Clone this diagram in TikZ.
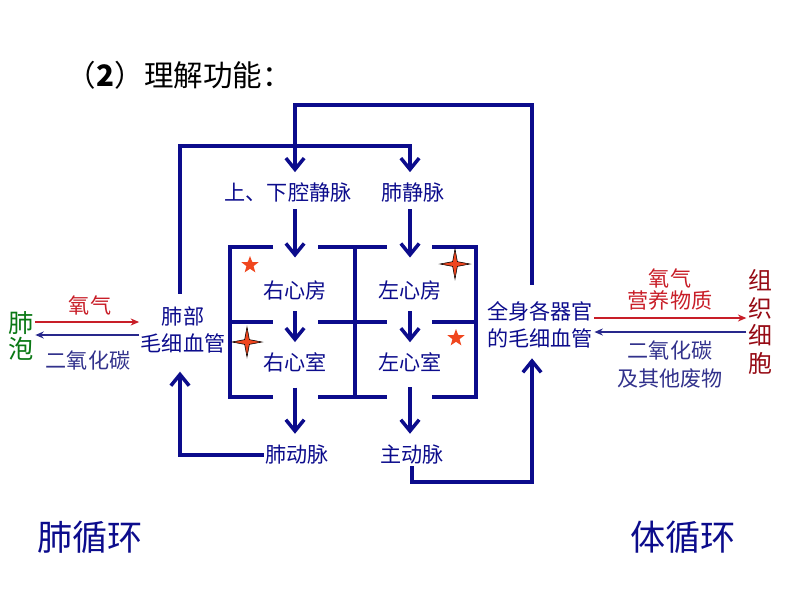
\documentclass[tikz,border=0pt]{standalone}
\usepackage{fontspec}
\setmainfont{Liberation Sans}
\newfontfamily\cjk{Noto Sans CJK SC}
\usetikzlibrary{arrows.meta, shapes.geometric}

\definecolor{vesselblue}{RGB}{12,12,140}
\definecolor{arrowred}{RGB}{200,30,40}
\definecolor{arrowblue}{RGB}{40,40,140}
\definecolor{cellred}{RGB}{150,10,20}
\definecolor{alveoligreen}{RGB}{10,120,20}
\definecolor{wasteblue}{RGB}{50,50,140}
\definecolor{starred}{RGB}{240,70,30}

\begin{document}
\begin{tikzpicture}[
            x = 0.025cm, y = -0.025cm, % pixel grid, y runs down
            > = {Straight Barb[length=8pt, width=13pt]}, % arrow head style
            flow/.style = {draw = vesselblue, line width = 2.5pt, ->},
            wall/.style = {draw = vesselblue, line width = 2.5pt},
            organ/.style = {font = \cjk\fontsize{15}{19}\selectfont, text = vesselblue, inner sep = 1pt},
            gasin/.style = {draw = arrowred, line width = 1.4pt, -{Stealth[length=6pt, width=5pt]}},
            gasout/.style = {draw = arrowblue, line width = 1.4pt, -{Stealth[length=6pt, width=5pt]}},
            spark/.style = {star, star points = 4, star point ratio = 4.5, draw = black, line width = 0.4pt,
                fill = starred, minimum size = 0.75cm, inner sep = 0pt},
            dotstar/.style = {star, star points = 5, star point ratio = 2.4, fill = starred,
                minimum size = 0.45cm, inner sep = 0pt}
        ]

        \useasboundingbox (0,0) rectangle (800,600);

        % title
        \node[anchor = west, font = \cjk\fontsize{21}{24}\selectfont] (title) at (62,75)
            {（\textbf{2}）理解功能：};

        % vessels and chambers
        \node[organ] (svc) at (288,192) {上、下腔静脉};
        \node[organ] (pv) at (413,192) {肺静脉};
        \node[organ] (ra) at (295,290) {右心房};
        \node[organ] (la) at (410,290) {左心房};
        \node[organ] (rv) at (295,362) {右心室};
        \node[organ] (lv) at (410,362) {左心室};
        \node[organ] (pa) at (297,455) {肺动脉};
        \node[organ] (ao) at (412,455) {主动脉};
        \node[organ, align = center] (lungcap) at (183,330) {肺部\\毛细血管};
        \node[organ, align = center] (bodycap) at (540,325) {全身各器官\\的毛细血管};

        \coordinate (sysTop) at (532,105);
        \coordinate (pulTop) at (180,146);
        \coordinate (sysBot) at (532,482);

        % heart walls
        \draw[wall] (273,247) -- (230,247) -- (230,397) -- (273,397);
        \draw[wall] (432,247) -- (476,247) -- (476,397) -- (432,397);
        \draw[wall] (318,247) -- (387,247);
        \draw[wall] (318,397) -- (387,397);
        \draw[wall] (230,322) -- (273,322);
        \draw[wall] (318,322) -- (387,322);
        \draw[wall] (432,322) -- (476,322);
        \draw[wall] (355,247) -- (355,397);

        % blood flow
        \draw[flow, shorten <= 4pt, shorten >= 15pt] (ra |- svc.south) -- (ra.north);
        \draw[flow, shorten <= 4pt, shorten >= 15pt] (la |- pv.south) -- (la.north);
        \draw[flow, shorten <= 7pt, shorten >= 6pt] (ra) -- (rv);
        \draw[flow, shorten <= 7pt, shorten >= 6pt] (la) -- (lv);
        \draw[flow, shorten <= 10pt, shorten >= 7pt] (rv.south) -- (rv |- pa.north);
        \draw[flow, shorten <= 10pt, shorten >= 7pt] (lv.south) -- (lv |- ao.north);

        \draw[flow, shorten <= 11pt, shorten >= 6pt] (sysTop |- bodycap.north) -- (sysTop) -| (ra |- svc.north);
        \draw[flow, shorten <= 8pt, shorten >= 6pt] (pulTop |- lungcap.north) -- (pulTop) -| (la |- pv.north);
        \draw[flow, shorten >= 12pt] (pa.west) -| (pulTop |- lungcap.south);
        \draw[flow, shorten >= 6pt] (ao.south) |- (sysBot) -- (sysTop |- bodycap.south);

        % marks on the heart
        \node[dotstar] (mark1) at (250,265) {};
        \node[dotstar] (mark2) at (456,338) {};
        \node[spark] (mark3) at (455,264) {};
        \node[spark] (mark4) at (247,342) {};

        % exchange at the lungs
        \node[font = \cjk\fontsize{18}{18}\selectfont, text = alveoligreen, align = center, inner sep = 1pt]
            (alv) at (21,336) {肺\\泡};
        \node[organ, text = arrowred] (o2left) at (90,305) {氧气};
        \node[organ, text = wasteblue] (co2left) at (88,360) {二氧化碳};
        \draw[gasin] (alv.east |- 0,322) -- (lungcap.west |- 0,322);
        \draw[gasout] (lungcap.west |- 0,335) -- (alv.east |- 0,335);

        % exchange at the tissues
        \node[font = \cjk\fontsize{17}{19.5}\selectfont, text = cellred, align = center, inner sep = 1pt]
            (cell) at (760,322) {组\\织\\细\\胞};
        \node[organ, text = arrowred] (o2right) at (670,278) {氧气};
        \node[organ, text = arrowred] (food) at (670,300) {营养物质};
        \node[organ, text = wasteblue] (co2right) at (670,350) {二氧化碳};
        \node[organ, text = wasteblue] (waste) at (670,378) {及其他废物};
        \draw[gasin] (bodycap.east |- 0,318) -- (cell.west |- 0,318);
        \draw[gasout] (cell.west |- 0,332) -- (bodycap.east |- 0,332);

        % names of the two circuits
        \node[font = \cjk\fontsize{25}{28}\selectfont, text = vesselblue] (pulmonary) at (90,537) {肺循环};
        \node[font = \cjk\fontsize{25}{28}\selectfont, text = vesselblue] (systemic) at (683,537) {体循环};
     \end{tikzpicture}
\end{document}
